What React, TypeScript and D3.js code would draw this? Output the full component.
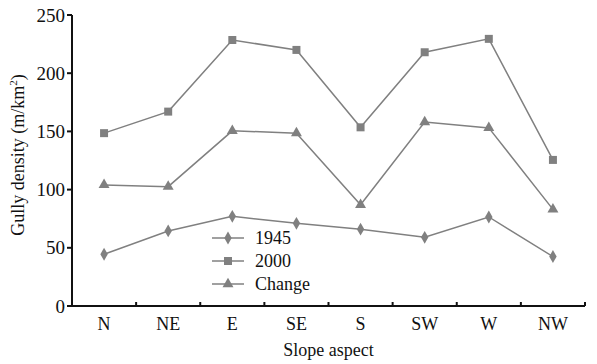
import React from 'react';
import * as d3 from 'd3';

const aspects = ['N', 'NE', 'E', 'SE', 'S', 'SW', 'W', 'NW'];
const density1945 = [44.5, 64.5, 77, 71, 66, 59, 76.5, 42.5];
const density2000 = [148.5, 167, 228.5, 220, 153.5, 218, 229.5, 125.5];
const densityChange = [104, 102.5, 150.5, 148.5, 87, 158, 153, 83];
const yTicks = [0, 50, 100, 150, 200, 250];

const seriesList = [
  { name: '1945', values: density1945, symbol: d3.symbolDiamond, size: 48 },
  { name: '2000', values: density2000, symbol: d3.symbolSquare, size: 64 },
  { name: 'Change', values: densityChange, symbol: d3.symbolTriangle, size: 52 },
];

const grey = '#808080';
const ink = '#111';
const left = 72, right = 585, top = 15, bottom = 306;

const x = d3.scaleBand().domain(aspects).range([left, right]);
const y = d3.scaleLinear().domain([0, 250]).range([bottom, top]);
const cx = (d: string) => (x(d) as number) + x.bandwidth() / 2;

const line = d3.line<number>()
  .x((d, i) => cx(aspects[i]))
  .y(d => y(d));

const txt = (size: number) => ({ fontFamily: 'Liberation Serif', fontSize: size });

const App = () => {
  const bounds = aspects.slice(1).map(d => x(d) as number).concat([right]);

  return (
    <svg width={597} height={364} style={{ position: 'absolute', left: 0, top: 0, background: '#fff' }}>
      {/* axes */}
      <line x1={left} x2={left} y1={top} y2={bottom} stroke={ink} strokeWidth={2} />
      <line x1={left - 1} x2={right} y1={bottom} y2={bottom} stroke={ink} strokeWidth={2} />

      {/* y ticks */}
      {yTicks.map(t => (
        <g key={t}>
          <line x1={left - 5} x2={left} y1={y(t)} y2={y(t)} stroke={ink} strokeWidth={2} />
          <text x={left - 7} y={y(t)} dy="0.35em" textAnchor="end" fill={ink} style={txt(19)}>{t}</text>
        </g>
      ))}

      {/* x ticks */}
      {bounds.map(b => (
        <line key={b} x1={b} x2={b} y1={bottom - 4} y2={bottom} stroke={ink} strokeWidth={2} />
      ))}
      {aspects.map(a => (
        <text key={a} x={cx(a)} y={330} textAnchor="middle" fill={ink} style={txt(18)}>{a}</text>
      ))}

      {/* axis titles */}
      <text x={(left + right) / 2} y={356} textAnchor="middle" fill={ink} style={txt(18)}>Slope aspect</text>
      <text transform="translate(24,155) rotate(-90)" textAnchor="middle" fill={ink} style={txt(18)}>
        Gully density (m/km<tspan dy={-7} style={{ fontSize: 11 }}>2</tspan><tspan dy={7}>)</tspan>
      </text>

      {/* series */}
      {seriesList.map(s => (
        <g key={s.name}>
          <path d={line(s.values) || ''} fill="none" stroke={grey} strokeWidth={1.5} />
          {s.values.map((v, i) => (
            <path key={i} d={d3.symbol().type(s.symbol).size(s.size)() || ''}
              transform={`translate(${cx(aspects[i])},${y(v)})`} fill={grey} />
          ))}
        </g>
      ))}

      {/* legend */}
      <g transform="translate(212,238)">
        {seriesList.map((s, i) => (
          <g key={s.name} transform={`translate(0,${i * 23})`}>
            <line x1={0} x2={32} y1={0} y2={0} stroke={grey} strokeWidth={1.5} />
            <path d={d3.symbol().type(s.symbol).size(s.size)() || ''} transform="translate(16,0)" fill={grey} />
            <text x={43} y={0} dy="0.35em" fill={ink} style={txt(18)}>{s.name}</text>
          </g>
        ))}
      </g>
    </svg>
  );
};

export default App;
